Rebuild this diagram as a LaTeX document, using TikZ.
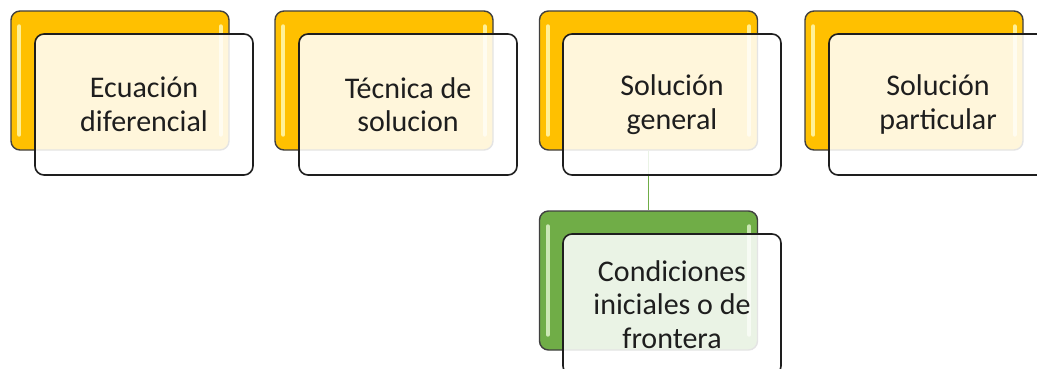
\documentclass[tikz,border=0pt]{standalone}
\usepackage{fontspec}
\setmainfont{Carlito}
\definecolor{gold}{RGB}{255,192,0}
\definecolor{goldlight}{RGB}{255,240,150}
\definecolor{leaf}{RGB}{112,173,71}
\definecolor{leaflight}{RGB}{205,232,180}
\definecolor{ink}{RGB}{30,30,30}
\tikzset{
	backbox/.style={draw=ink!85,line width=1.4pt,rounded corners=9pt,
		minimum width=218pt,minimum height=139pt,inner sep=0pt},
	frontbox/.style={draw=ink,line width=1.6pt,rounded corners=9pt,fill=white,
		fill opacity=0.86,text opacity=1,minimum width=218pt,minimum height=141pt,
		align=center,text=ink,font=\fontsize{30}{33.5}\selectfont},
	shine/.style={line width=4pt,line cap=round},
}
\begin{document}
\begin{tikzpicture}[x=1pt,y=-1pt]
	\useasboundingbox (0,0) rectangle (1037,369);
	\clip (0,0) rectangle (1037,369);
	% back boxes
	\node[backbox,fill=gold](b1)at(120,80.5){};
	\node[backbox,fill=gold](b2)at(384,80.5){};
	\node[backbox,fill=gold](b3)at(648.5,80.5){};
	\node[backbox,fill=gold](b4)at(914,80.5){};
	\node[backbox,fill=leaf](g1)at(648.5,280.5){};
	% highlights
	\foreach \b in {b1,b2,b3,b4}{
		\draw[shine,goldlight]([xshift=9pt,yshift=-16pt]\b.north west)--([xshift=9pt,yshift=16pt]\b.south west);
		\draw[shine,goldlight]([xshift=-9pt,yshift=-16pt]\b.north east)--([xshift=-9pt,yshift=16pt]\b.south east);
	}
	\draw[shine,leaflight]([xshift=9pt,yshift=-16pt]g1.north west)--([xshift=9pt,yshift=16pt]g1.south west);
	\draw[shine,leaflight]([xshift=-9pt,yshift=-16pt]g1.north east)--([xshift=-9pt,yshift=16pt]g1.south east);
	% connector
	\draw[leaf,line width=1.5pt](b3.south)--(g1.north);
	% front boxes
	\node[frontbox](f1)at(144,104.5){Ecuación\\diferencial};
	\node[frontbox](f2)at(408,104.5){Técnica de\\solucion};
	\node[frontbox](f3)at(672,104.5){Solución\\general};
	\node[frontbox](f4)at(938,104.5){Solución\\particular};
	\node[frontbox](f5)at(672,304.5){Condiciones\\iniciales o de\\frontera};
\end{tikzpicture}
\end{document}
